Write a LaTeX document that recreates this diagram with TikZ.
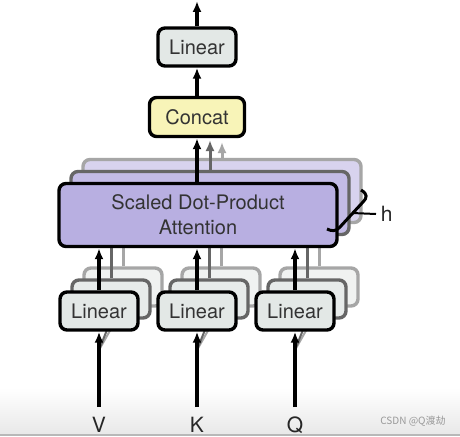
\documentclass[tikz,border=0pt]{standalone}
\usepackage{fontspec}
\setmainfont{TeX Gyre Heros}
\newfontfamily\cjk{Noto Sans CJK SC}
\usetikzlibrary{arrows.meta,positioning}
\definecolor{linfill}{HTML}{E3E8E6}
\definecolor{catfill}{HTML}{F8F4B8}
\definecolor{attfill}{HTML}{B8AFE1}
\tikzset{
  box/.style={draw=black, line width=3.4pt, rounded corners=7pt, inner sep=0pt, text=black!80,
    font=\fontsize{20}{25}\selectfont},
  linbox/.style={box, fill=linfill, minimum width=78pt, minimum height=38pt},
  attbox/.style={box, fill=attfill, minimum width=278pt, minimum height=63pt, align=center},
  layerb/.style={draw=black!60, fill=#1!85!white},
  layerc/.style={draw=black!35, fill=#1!55!white},
  backline/.style={line width=3pt, draw=black!60},
  faintline/.style={line width=3pt, draw=black!35},
  lbl/.style={font=\fontsize{21}{21}\selectfont, text=black!85}
}
\begin{document}
\begin{tikzpicture}[x=1pt, y=-1pt, >={Latex[length=11pt,width=9pt]}, line width=3.2pt]
\useasboundingbox[fill=white] (0,0) rectangle (460,436);
\shade[top color=white, bottom color=black!9] (0,388) rectangle (460,434);
\fill[black!28] (0,434) rectangle (460,436);

% attention layers, back to front
\node[attbox, layerc=attfill] (att3) at (222,191) {};
\node[attbox, layerb=attfill] (att2) at (210,203) {};
\draw[->, faintline] (att3.north) -- (att3.north |- 0,142);
\draw[->, backline] (att2.north) -- (att2.north |- 0,140);

% linear layers behind
\foreach \n/\x in {V/99,K/197,Q/295}{
  \node[linbox, layerc=linfill] (lin\n c) at (\x+24,287) {};
  \node[linbox, layerb=linfill] (lin\n b) at (\x+12,299) {};
  \draw[faintline] (lin\n c.north) -- (lin\n c.north |- 0,240);
  \draw[backline] (lin\n b.north) -- (lin\n b.north |- 0,240);
  \draw[faintline, line width=2pt] (\x,350) -- (lin\n c.south);
  \draw[backline, line width=2pt] (\x,350) -- (lin\n b.south);
}

\node[attbox] (att) at (198,215) {Scaled Dot-Product\\Attention};
\node[linbox, fill=catfill, minimum width=95pt, minimum height=39pt] (concat) at (197,117) {Concat};
\node[linbox] (out) at (197,47) {Linear};
\coordinate (top) at (197,1);

\draw[->] (att.north -| concat) -- (concat.south);
\draw[->] (concat.north) -- (out.south);
\draw[->] (out.north) -- (top);

% heads
\draw[line width=3pt] (361,190) .. controls (368,194) and (367,198) .. (363,202) -- (340,227)
  .. controls (336,232) and (331,231) .. (327,229);
\coordinate (hmid) at (352,213);
\node[lbl, anchor=west] (h) at (376,214) {h};
\draw[line width=2pt] (hmid) -- (h.west);

% inputs
\foreach \n/\x in {V/99,K/197,Q/295}{
  \node[linbox] (lin\n) at (\x,311) {Linear};
  \coordinate (in\n) at (\x,407);
  \node[lbl] (lab\n) at (\x,425) {\n};
  \draw[->] (in\n) -- (lin\n.south);
  \draw[->] (lin\n.north) -- (lin\n.north |- att.south);
}

\node[text=black!40, font=\cjk\fontsize{10}{10}\selectfont] (mark) at (413,421) {CSDN @Q渡劫};
\end{tikzpicture}
\end{document}
